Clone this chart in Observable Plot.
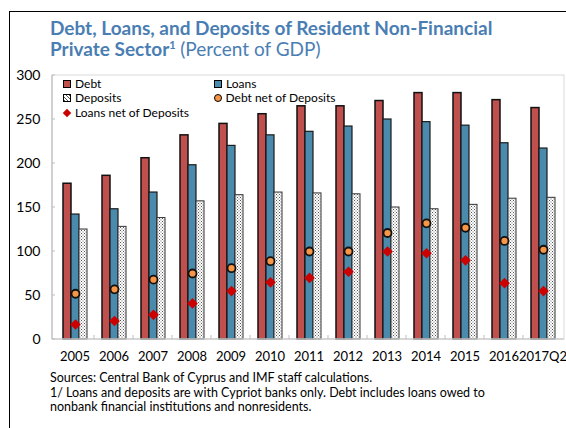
<!DOCTYPE html>
<html>
<head>
<meta charset="utf-8">
<script src="https://cdn.jsdelivr.net/npm/d3@7"></script>
<script src="https://cdn.jsdelivr.net/npm/@observablehq/plot@0.6"></script>
<style>
  html, body { margin: 0; padding: 0; background: #fff; }
  #root { position: relative; width: 566px; height: 428px; overflow: hidden; font-family: Lato, "Open Sans", sans-serif; }
  #border { position: absolute; left: 9px; top: 11px; width: 600px; height: 430px; border-left: 1px solid #000; border-top: 1px solid #000; }
  #title { position: absolute; left: 50px; top: 17px; color: #4A7EB3; font-size: 19px; line-height: 21px; font-weight: bold; white-space: nowrap; }
  #title .sub { font-weight: normal; }
  #title sup { font-size: 11px; line-height: 0; }
  #chart { position: absolute; left: 0; top: 62px; }
  .leg { position: absolute; font-size: 12px; line-height: 14px; height: 14px; display: flex; align-items: center; white-space: nowrap; color: #000; }
  .sw { width: 6px; height: 6px; border: 1px solid #000; margin-right: 4px; }
  .circ { width: 6px; height: 6px; border: 1.5px solid #000; border-radius: 50%; background: #F79646; margin-right: 3.5px; }
  .dia { width: 6px; height: 6px; background: #CC0000; transform: rotate(45deg); margin: 0 5px 0 1px; }
  #foot { position: absolute; left: 50px; top: 371px; font-size: 12.5px; line-height: 14.5px; color: #000; white-space: nowrap; }
</style>
</head>
<body>
<svg width="0" height="0" style="position:absolute">
  <defs>
    <pattern id="dots" width="3" height="3" patternUnits="userSpaceOnUse">
      <rect width="3" height="3" fill="#ffffff"></rect>
      <rect x="0" y="0" width="1" height="1" fill="#555"></rect>
      <rect x="1.5" y="1.5" width="1" height="1" fill="#666"></rect>
    </pattern>
  </defs>
</svg>
<div id="root">
  <div id="border"></div>
  <div id="title">Debt, Loans, and Deposits of Resident Non-Financial<br>Private Sector<sup>1</sup> <span class="sub">(Percent of GDP)</span></div>
  <div id="chart"></div>
  <div id="legend"></div>
  <div id="foot">Sources: Central Bank of Cyprus and IMF staff calculations.<br>1/ Loans and deposits are with Cypriot banks only. Debt includes loans owed to<br>nonbank financial institutions and nonresidents.</div>
</div>
<script>
const years = ["2005","2006","2007","2008","2009","2010","2011","2012","2013","2014","2015","2016","2017Q2"];
const debt = [177, 186, 206, 232, 245, 256, 265, 265, 271, 280, 280, 272, 263];
const loans = [142, 148, 167, 198, 220, 232, 236, 242, 250, 247, 243, 223, 217];
const deposits = [125, 128, 138, 157, 164, 167, 166, 165, 150, 148, 153, 160, 161];
const debtNet = [52, 57, 68, 75, 81, 89, 100, 100, 121, 132, 127, 112, 102];
const loansNet = [17, 21, 28, 41, 55, 65, 70, 77, 100, 98, 90, 64, 55];
const yTicks = [0, 50, 100, 150, 200, 250, 300];
const seriesNames = ["Debt", "Loans", "Deposits"];

const W = 566, H = 307, ML = 52, MR = 2, MT = 13, MB = 30;

const rows = (vals, s) => years.map((y, i) => ({year: y, series: s, value: vals[i]}));
const debtRows = rows(debt, "Debt");
const loanRows = rows(loans, "Loans");
const depRows = rows(deposits, "Deposits");
const debtNetRows = rows(debtNet, "Loans");
const loansNetRows = rows(loansNet, "Loans");

const chart = Plot.plot({
  width: W, height: H,
  marginLeft: ML, marginRight: MR, marginTop: MT, marginBottom: MB,
  style: {fontFamily: "Lato, 'Open Sans', sans-serif", fontSize: "14px", color: "#000", background: "transparent"},
  fx: {domain: years, paddingInner: 0, paddingOuter: 0, label: null, tickSize: 0, tickPadding: 12, axis: "bottom"},
  x: {domain: seriesNames, paddingInner: 0, paddingOuter: 0.71, axis: null},
  y: {domain: [0, 300], ticks: yTicks, tickSize: 0, tickPadding: 15, label: null, tickFormat: d => String(d)},
  marks: [
    Plot.barY(debtRows, {fx: "year", x: "series", y: "value", fill: "#C0504D", stroke: "#111", strokeWidth: 1.5}),
    Plot.barY(loanRows, {fx: "year", x: "series", y: "value", fill: "#4A8BAD", stroke: "#1a1a1a", strokeWidth: 1.2}),
    Plot.barY(depRows, {fx: "year", x: "series", y: "value", fill: "url(#dots)", stroke: "#333", strokeWidth: 1}),
    Plot.dot(debtNetRows, {fx: "year", x: "series", y: "value", r: 4, fill: "#F79646", stroke: "#111", strokeWidth: 1.8}),
    Plot.dot(loansNetRows, {fx: "year", x: "series", y: "value", r: 4.8, symbol: "diamond2", fill: "#CC0000", stroke: "none"})
  ]
});

d3.select(chart).selectAll("[aria-label='fx-axis tick label'] text, [aria-label='fx-axis tick label']").style("font-size", "13px");

const yS = chart.scale("y");
const fxS = chart.scale("fx");
const y0 = yS.apply(0), yTop = yS.apply(300);
const svg = d3.select(chart);
const g = svg.append("g").attr("pointer-events", "none");
g.append("rect").attr("x", ML).attr("y", yTop).attr("width", W - ML - MR).attr("height", y0 - yTop)
  .attr("fill", "none").attr("stroke", "#d9d9d9").attr("stroke-width", 1);
g.append("line").attr("x1", ML).attr("x2", W - MR).attr("y1", y0).attr("y2", y0).attr("stroke", "#bfbfbf").attr("stroke-width", 1.2);
g.append("line").attr("x1", ML).attr("x2", ML).attr("y1", yTop).attr("y2", y0).attr("stroke", "#bfbfbf").attr("stroke-width", 1.2);
years.slice(1).forEach(yr => {
  const x = fxS.apply(yr);
  g.append("line").attr("x1", x).attr("x2", x).attr("y1", y0 - 4).attr("y2", y0).attr("stroke", "#bfbfbf");
});
yTicks.forEach(t => {
  const y = yS.apply(t);
  g.append("line").attr("x1", ML).attr("x2", ML + 3).attr("y1", y).attr("y2", y).attr("stroke", "#bfbfbf");
});
document.getElementById("chart").appendChild(chart);

const legendItems = [
  {label: "Debt", kind: "sw", fill: "#C0504D", left: 63, top: 77},
  {label: "Loans", kind: "sw", fill: "#4A8BAD", left: 214, top: 77},
  {label: "Deposits", kind: "sw", fill: "url(#dots)", left: 63, top: 91},
  {label: "Debt net of Deposits", kind: "circ", left: 214, top: 91},
  {label: "Loans net of Deposits", kind: "dia", left: 63, top: 106}
];
const leg = document.getElementById("legend");
legendItems.forEach(it => {
  const d = document.createElement("div");
  d.className = "leg";
  d.style.left = it.left + "px";
  d.style.top = it.top + "px";
  const m = document.createElement("span");
  m.className = it.kind;
  if (it.kind === "sw") {
    if (it.fill.startsWith("url")) {
      m.style.background = "repeating-linear-gradient(45deg, #555 0 1px, #fff 1px 2.5px)";
    } else m.style.background = it.fill;
  }
  d.appendChild(m);
  d.appendChild(document.createTextNode(it.label));
  leg.appendChild(d);
});
</script>
</body>
</html>
